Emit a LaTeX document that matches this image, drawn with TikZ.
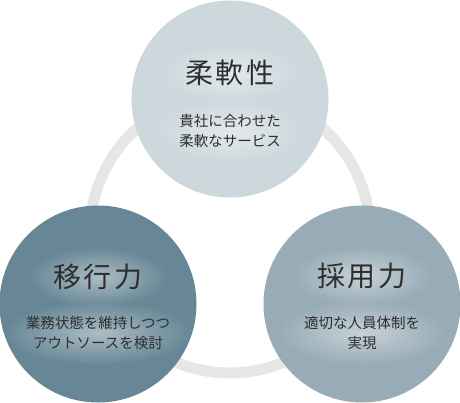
\documentclass[tikz,border=0pt]{standalone}
\usepackage{fontspec}
\usetikzlibrary{fadings}
\newfontfamily\jp{Noto Sans CJK JP}
\definecolor{ringgray}{HTML}{E6E6E6}
\definecolor{flexcol}{HTML}{CDD8DD}
\definecolor{movecol}{HTML}{678796}
\definecolor{hirecol}{HTML}{98ACB7}
\definecolor{txt}{HTML}{2E2E2E}
\tikzfading[name=halofade, inner color=transparent!0, outer color=transparent!100]
% soft white halo under a text node
\newcommand\glow[6]{%
  \fill[white, opacity=.45, path fading=halofade] (#3) ellipse[x radius=#4, y radius=#5];
  \node[#1] (#2) at (#3) {#6};}
\begin{document}
\begin{tikzpicture}[x=1pt, y=-1pt,
  ball/.style={circle, minimum size=197pt, inner sep=0pt},
  ttl/.style={font=\jp\fontsize{28}{28}\selectfont\addfontfeature{LetterSpace=10}, text=txt, inner sep=0pt},
  sub/.style={font=\jp\fontsize{14.5}{20}\selectfont, align=center, text=txt, inner sep=0pt}]
\useasboundingbox (0,0) rectangle (460,403);
\coordinate (mid) at (230,233);
\draw[ringgray, line width=11pt] (mid) circle[radius=140];
\node[ball, fill=flexcol] (flex) at (230,99) {};
\node[ball, fill=movecol] (move) at (98,304) {};
\node[ball, fill=hirecol] (hire) at (362,304) {};
\glow{ttl}{flexT}{230,73}{70}{30}{柔軟性}
\glow{sub}{flexS}{230,131}{75}{32}{貴社に合わせた\\柔軟なサービス}
\glow{ttl}{moveT}{98,277}{70}{30}{移行力}
\glow{sub}{moveS}{98,333}{95}{32}{業務状態を維持しつつ\\アウトソースを検討}
\glow{ttl}{hireT}{362,276}{70}{30}{採用力}
\glow{sub}{hireS}{362,333}{85}{32}{適切な人員体制を\\実現}
\end{tikzpicture}
\end{document}
